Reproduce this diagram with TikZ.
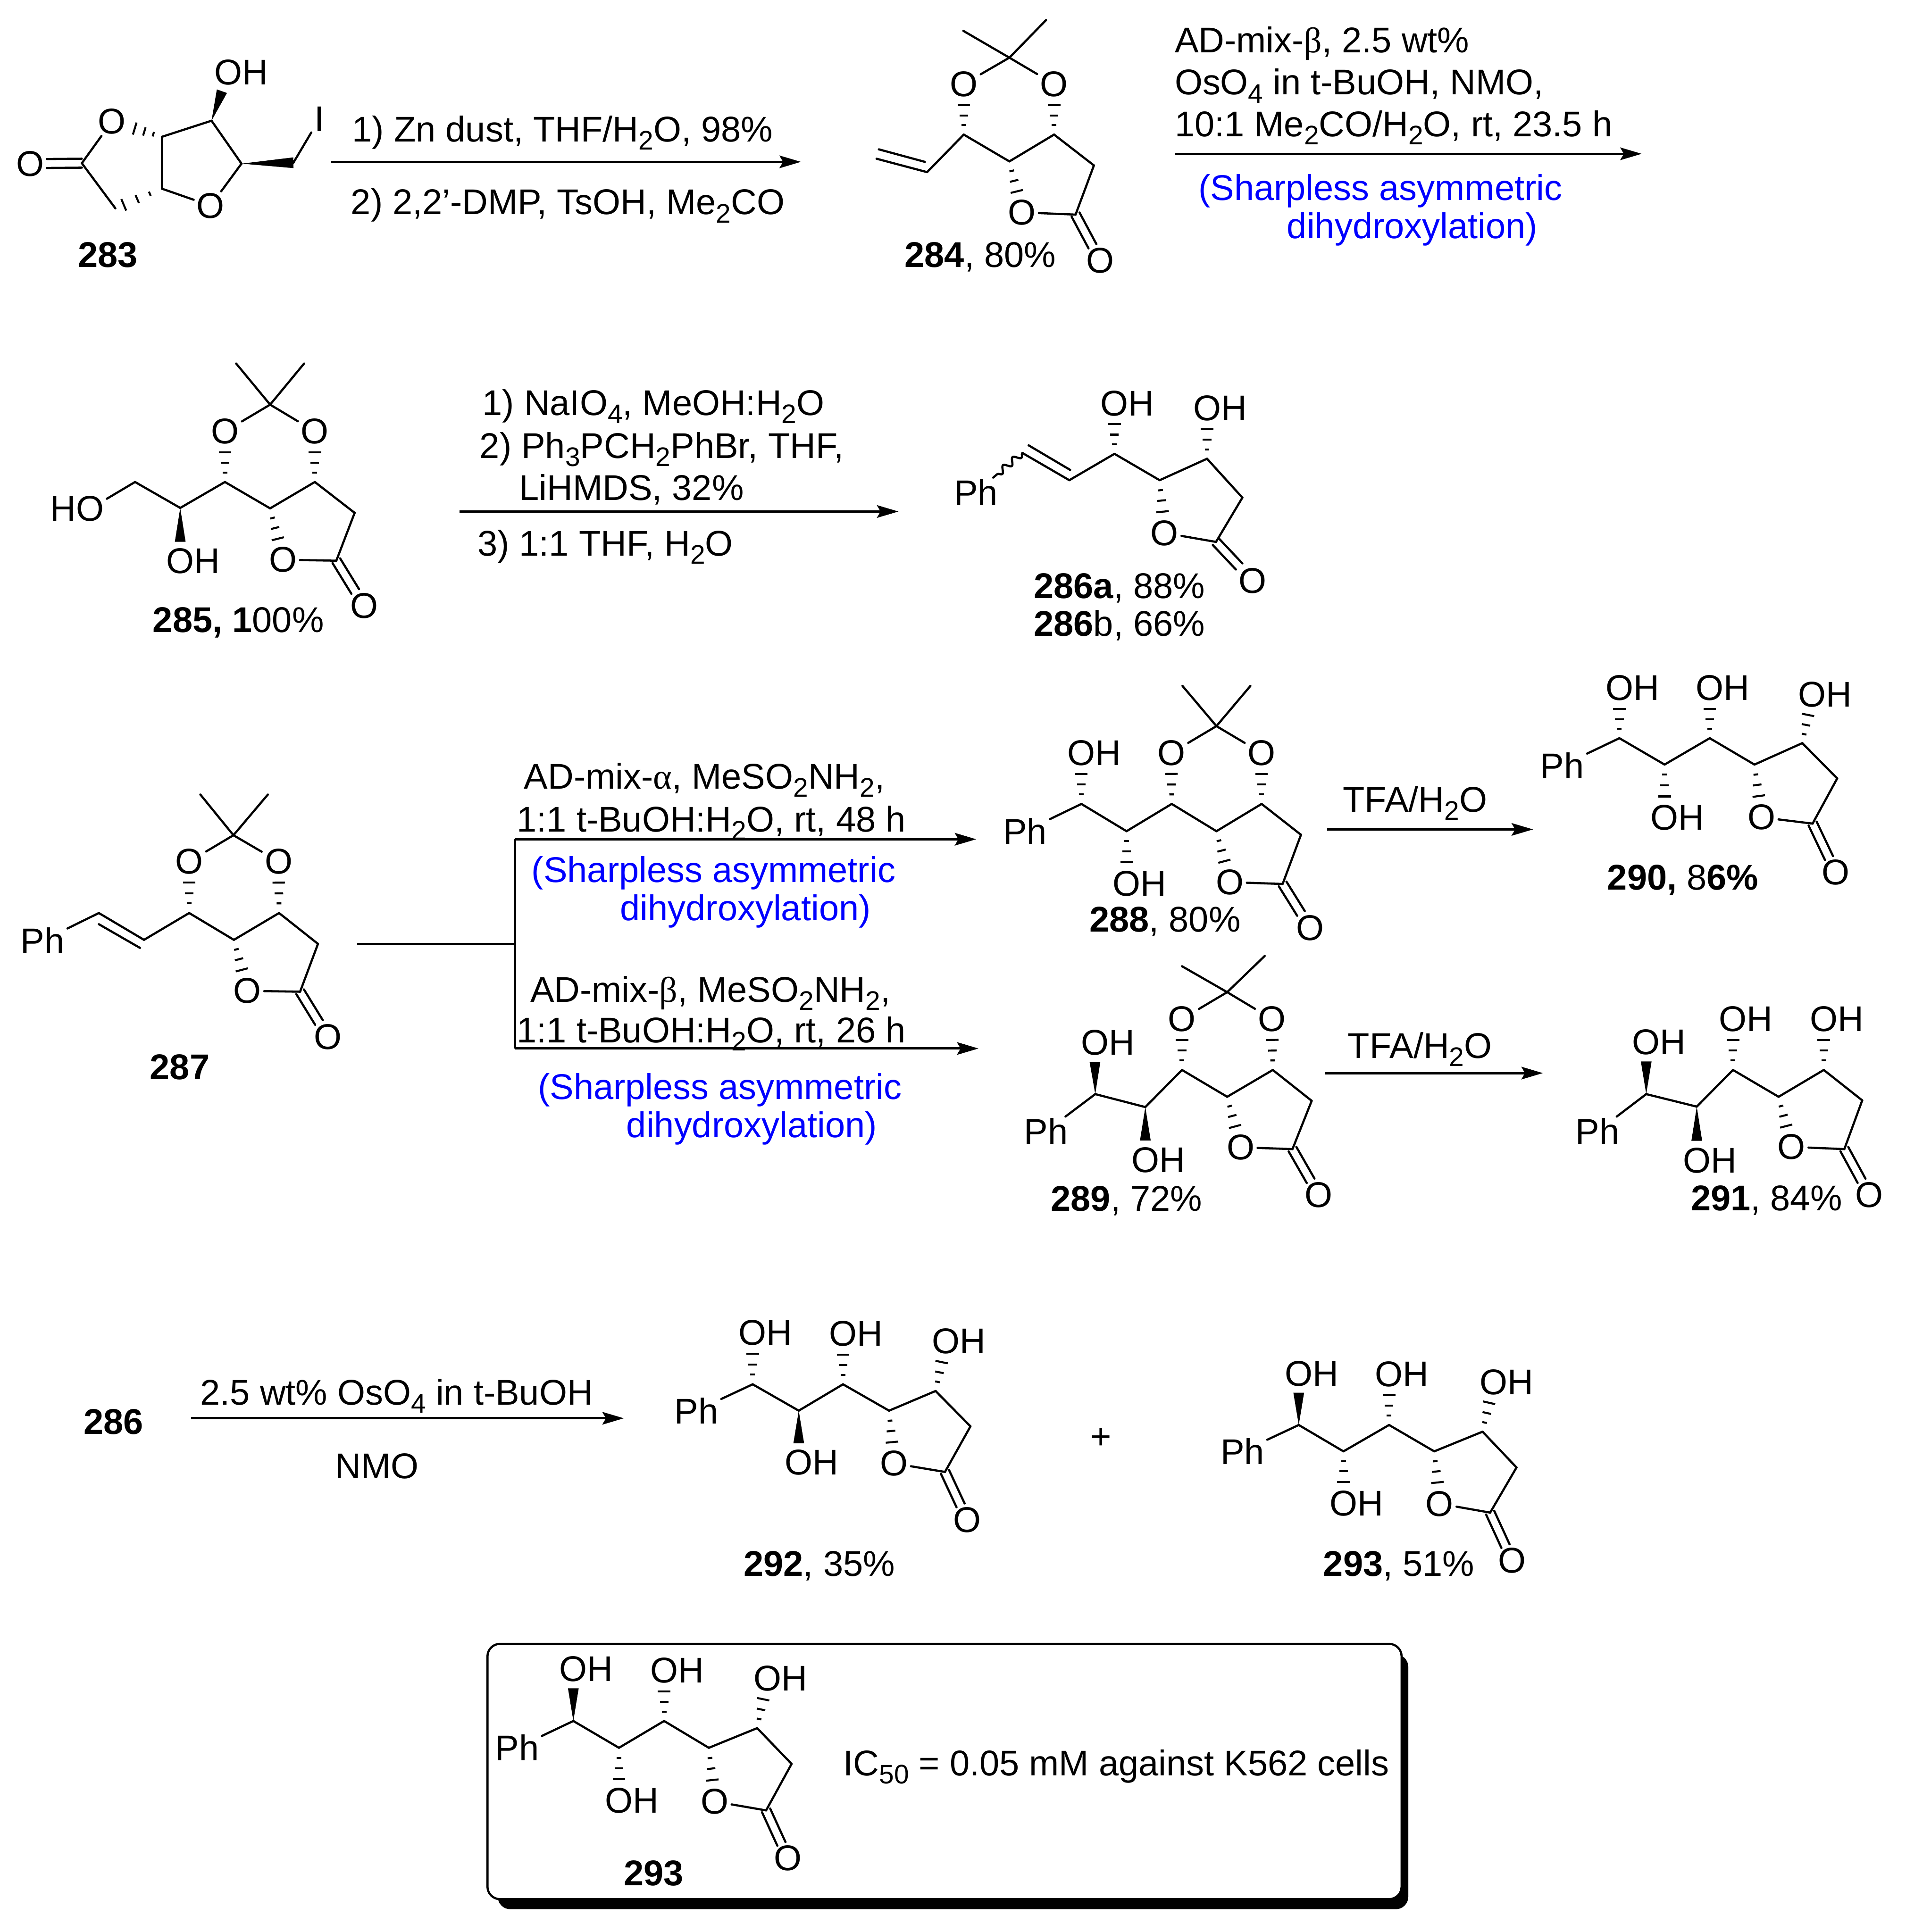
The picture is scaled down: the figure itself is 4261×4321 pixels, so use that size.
\documentclass[tikz,border=0pt]{standalone}
\usepackage{fontspec}
\setmainfont{Liberation Sans}
\newfontfamily\greekfont{Liberation Serif}
\usepackage{xcolor}
\usetikzlibrary{calc,arrows.meta,decorations.pathmorphing}

\newcommand{\OH}{O\rlap{H}}
\newcommand{\HO}{\llap{H}O}
\newcommand{\sub}[1]{\raisebox{-4.5pt}{\fontsize{15}{18}\selectfont #1}}
% dashed stereo bond, widening away from the first atom
\newcommand{\hashbond}[2]{
    \path (#1) -- (#2) coordinate[pos=0.26] (ha) coordinate[pos=0.53] (hb) coordinate[pos=0.82] (hc);
    \foreach \p/\w in {ha/1.3pt, hb/2.4pt, hc/3.5pt}
        \draw [hash] ($(\p)!\w!90:(#1)$) -- ($(\p)!\w!-90:(#1)$);
}
\newcommand{\wedgebond}[3][0.87]{
    \path (#2) -- (#3) coordinate[pos=#1] (we);
    \fill (#2) -- ($(we)!3pt!90:(#2)$) -- ($(we)!3pt!-90:(#2)$) -- cycle;
}
\newcommand{\dblbond}[2]{
    \path (#1) -- (#2) coordinate[pos=1] (de);
    \draw [bond] ($(#1)!2.5pt!90:(#2)$) -- ($(de)!2.5pt!-90:(#1)$);
    \draw [bond] ($(#1)!2.5pt!-90:(#2)$) -- ($(de)!2.5pt!90:(#1)$);
}

\begin{document}
\begin{tikzpicture}[x=0.25pt, y=-0.25pt]
    \tikzset{
        every node/.style = {font=\fontsize{20}{24}\selectfont},
        bond/.style = {line width=1.2pt, line cap=round, line join=round},
        hash/.style = {line width=1.1pt},
        atom/.style = {inner xsep=1.5pt, inner ysep=0.75pt},
        txt/.style = {anchor=base west, inner sep=0pt},
        tag/.style = {anchor=base, inner sep=0pt},
        note/.style = {txt, text=blue},
        rxn/.style = {line width=1.3pt, -{Stealth[length=12pt,width=7pt,inset=2pt]}},
    }
    \useasboundingbox (0,0) rectangle (4261,4321);

    % box behind the last structure
    \node [fill=black, rounded corners=7pt, minimum width=509pt, minimum height=142.5pt, inner sep=0pt] (boxshadow) at (2131,3985) {};
    \node [draw, fill=white, line width=1.2pt, rounded corners=7pt, minimum width=511pt, minimum height=142.75pt, inner sep=0pt] (box) at (2112,3962) {};

    % 283
    \foreach \n/\x/\y in {Ca/183/365, Cb/362/306, Cc/362/422, Cd/473/270, Ce/540/366, Cf/656/364, Cg/258/466}
        \coordinate (P283\n) at (\x,\y);
    \foreach \n/\x/\y/\t in {Oc/67/366/O, Oa/250/272/O, Or/471/460/O, Ia/714/266/I, Ta/511/162/\OH}
        \node [atom] (P283\n) at (\x,\y) {\t};
    \foreach \i/\j in {Ca/Oa, Ca/Cg, Cb/Cc, Cb/Cd, Cd/Ce, Ce/Or, Cc/Or, Cf/Ia}
        \draw [bond] (P283\i) -- (P283\j);
    \dblbond{P283Ca}{P283Oc}
    \hashbond{P283Cb}{P283Oa}
    \hashbond{P283Cc}{P283Cg}
    \wedgebond{P283Cd}{P283Ta}
    \wedgebond[1]{P283Ce}{P283Cf}
    \node [tag] (L283) at (241,598) {\textbf{283}};

    % 284
    \foreach \n/\x/\y in {Ca/1960/355, Cb/2073/385, Cc/2155/301, Cd/2257/361, Ce/2357/301, Cf/2446/370, Cg/2405/480, Qa/2257/129, Ma/2154/69, Mb/2339/45, Da/1965/334, Db/2068/362}
        \coordinate (P284\n) at (\x,\y);
    \foreach \n/\x/\y in {Oa/2155/188, Ob/2357/188, Or/2285/475, Oc/2460/583}
        \node [atom] (P284\n) at (\x,\y) {O};
    \draw [bond] (P284Da) -- (P284Db);
    \node [tag] (L284) at (2192,598) {\textbf{284}, 80\%};

    % 285
    \foreach \n/\x/\y in {Ca/302/1078, Cb/403/1136, Cc/503/1078, Cd/604/1137, Ce/704/1078, Cf/793/1147, Cg/752/1254, Qa/604/905, Ma/528/813, Mb/680/813}
        \coordinate (P285\n) at (\x,\y);
    \foreach \n/\x/\y in {Oa/503/965, Ob/704/965, Or/633/1252, Oc/814/1355}
        \node [atom] (P285\n) at (\x,\y) {O};
    \node [atom] (P285Ta) at (201,1138) {\HO};
    \node [atom] (P285Tb) at (403,1255) {\OH};
    \draw [bond] (P285Ca) -- (P285Ta);
    \wedgebond{P285Cb}{P285Tb}
    \node [tag] (L285) at (533,1414) {\textbf{285, 1}00\%};

    % 286
    \foreach \n/\x/\y in {Ca/2286/1013, Cb/2391/1074, Cc/2492/1015, Cd/2593/1074, Ce/2699/1026, Cf/2778/1113, Cg/2719/1212, Da/2300/996, Db/2393/1051}
        \coordinate (P286\n) at (\x,\y);
    \foreach \n/\x/\y/\t in {Oa/2492/902/\OH, Ob/2699/913/\OH, Or/2604/1192/O, Oc/2801/1299/O, Ph/2182/1101/Ph}
        \node [atom] (P286\n) at (\x,\y) {\t};
    \draw [bond] (P286Da) -- (P286Db);
    \draw [bond, decorate, decoration={snake, amplitude=1.8pt, segment length=7pt}] (P286Ca) -- (P286Ph);
    \node [tag] (L286a) at (2503,1338) {\textbf{286a}, 88\%};
    \node [tag] (L286b) at (2503,1423) {\textbf{286}b, 66\%};

    % 287
    \foreach \n/\x/\y in {Ca/221/2042, Cb/322/2102, Cc/423/2042, Cd/523/2102, Ce/624/2042, Cf/711/2111, Cg/671/2218, Qa/522/1868, Ma/448/1777, Mb/599/1777, Da/221/2067, Db/313/2120}
        \coordinate (P287\n) at (\x,\y);
    \foreach \n/\x/\y/\t in {Oa/423/1927/O, Ob/623/1927/O, Or/553/2216/O, Oc/733/2319/O, Ph/95/2104/Ph}
        \node [atom] (P287\n) at (\x,\y) {\t};
    \draw [bond] (P287Da) -- (P287Db);
    \node [tag] (L287) at (402,2414) {\textbf{287}};

    % 288
    \foreach \n/\x/\y in {Ca/2418/1798, Cb/2519/1859, Cc/2620/1798, Cd/2720/1859, Ce/2821/1798, Cf/2909/1867, Cg/2868/1977, Qa/2720/1624, Ma/2644/1534, Mb/2796/1534}
        \coordinate (P288\n) at (\x,\y);
    \foreach \n/\x/\y/\t in {Oa/2619/1684/O, Ob/2821/1684/O, Or/2750/1973/O, Oc/2929/2075/O, Ph/2292/1859/Ph, Ta/2418/1684/\OH, Tb/2519/1976/\OH}
        \node [atom] (P288\n) at (\x,\y) {\t};
    \node [tag] (L288) at (2605,2084) {\textbf{288}, 80\%};

    % 289
    \foreach \n/\x/\y in {Ca/2449/2447, Cb/2561/2476, Cc/2643/2393, Cd/2744/2453, Ce/2846/2393, Cf/2933/2462, Cg/2890/2570, Qa/2744/2219, Ma/2643/2161, Mb/2828/2138}
        \coordinate (P289\n) at (\x,\y);
    \foreach \n/\x/\y/\t in {Oa/2643/2279/O, Ob/2844/2279/O, Or/2774/2566/O, Oc/2949/2673/O, Ph/2339/2530/Ph, Ta/2448/2332/\OH, Tb/2561/2594/\OH}
        \node [atom] (P289\n) at (\x,\y) {\t};
    \node [tag] (L289) at (2519,2708) {\textbf{289}, 72\%};

    % 290
    \foreach \n/\x/\y in {Ca/3621/1651, Cb/3722/1710, Cc/3823/1651, Cd/3923/1710, Ce/4030/1662, Cf/4108/1741, Cg/4053/1842}
        \coordinate (P290\n) at (\x,\y);
    \foreach \n/\x/\y/\t in {Oa/3823/1539/\OH, Ob/4052/1553/\OH, Or/3939/1828/O, Oc/4105/1951/O, Ph/3493/1712/Ph, Ta/3621/1539/\OH, Tb/3722/1829/\OH}
        \node [atom] (P290\n) at (\x,\y) {\t};
    \node [tag] (L290) at (3763,1990) {\textbf{290,} 8\textbf{6\%}};

    % 291
    \foreach \n/\x/\y in {Ca/3681/2447, Cb/3794/2475, Cc/3875/2393, Cd/3977/2453, Ce/4078/2393, Cf/4164/2461, Cg/4124/2570}
        \coordinate (P291\n) at (\x,\y);
    \foreach \n/\x/\y/\t in {Oa/3875/2279/\OH, Ob/4078/2279/\OH, Or/4006/2565/O, Oc/4180/2673/O, Ph/3572/2530/Ph, Ta/3681/2331/\OH, Tb/3794/2595/\OH}
        \node [atom] (P291\n) at (\x,\y) {\t};
    \node [tag] (L291) at (3950,2707) {\textbf{291}, 84\%};

    % 292
    \foreach \n/\x/\y in {Ca/1683/3096, Cb/1786/3155, Cc/1885/3096, Cd/1988/3155, Ce/2092/3111, Cf/2170/3190, Cg/2113/3292}
        \coordinate (P292\n) at (\x,\y);
    \foreach \n/\x/\y/\t in {Oa/1885/2983/\OH, Ob/2115/3000/\OH, Or/1999/3273/O, Oc/2163/3399/O, Ph/1557/3155/Ph, Ta/1683/2981/\OH, Tb/1786/3271/\OH}
        \node [atom] (P292\n) at (\x,\y) {\t};
    \node [tag] (L292) at (1832,3525) {\textbf{292}, 35\%};

    % 293
    \foreach \n/\x/\y in {Ca/2904/3187, Cb/3004/3246, Cc/3106/3187, Cd/3207/3246, Ce/3315/3202, Cf/3391/3282, Cg/3332/3383}
        \coordinate (P293\n) at (\x,\y);
    \foreach \n/\x/\y/\t in {Oa/3106/3073/\OH, Ob/3340/3091/\OH, Or/3219/3363/O, Oc/3381/3490/O, Ph/2778/3246/Ph, Ta/2904/3072/\OH, Tb/3004/3362/\OH}
        \node [atom] (P293\n) at (\x,\y) {\t};
    \node [tag] (L293) at (3128,3525) {\textbf{293}, 51\%};
    \node [atom] (plus) at (2462,3217) {+};

    % 293 in the box
    \foreach \n/\x/\y in {Ca/1282/3849, Cb/1384/3909, Cc/1485/3849, Cd/1585/3909, Ce/1693/3865, Cf/1770/3945, Cg/1713/4049}
        \coordinate (P293b\n) at (\x,\y);
    \foreach \n/\x/\y/\t in {Oa/1485/3736/\OH, Ob/1716/3754/\OH, Or/1598/4029/O, Oc/1762/4156/O, Ph/1156/3909/Ph, Ta/1282/3733/\OH, Tb/1384/4027/\OH}
        \node [atom] (P293b\n) at (\x,\y) {\t};
    \node [tag] (L293b) at (1462,4217) {\textbf{293}};
    \node [txt] (ic50) at (1885,3971) {IC\sub{50} = 0.05 mM against K562 cells};

    % chain and lactone, shared by 284 to 293
    \foreach \m in {P284, P285, P286, P287, P288, P289, P290, P291, P292, P293, P293b} {
        \foreach \i/\j in {Ca/Cb, Cb/Cc, Cc/Cd, Cd/Ce, Ce/Cf, Cf/Cg, Cg/Or}
            \draw [bond] (\m\i) -- (\m\j);
        \dblbond{\m Cg}{\m Oc}
        \hashbond{\m Cd}{\m Or}
        \hashbond{\m Cc}{\m Oa}
        \hashbond{\m Ce}{\m Ob}
    }
    % acetal
    \foreach \m in {P284, P285, P287, P288, P289}
        \foreach \i/\j in {Qa/Oa, Qa/Ob, Qa/Ma, Qa/Mb}
            \draw [bond] (\m\i) -- (\m\j);
    \foreach \m in {P287, P288, P289, P290, P291, P292, P293, P293b}
        \draw [bond] (\m Ca) -- (\m Ph);
    \foreach \m/\i/\j in {P288/Ca/Ta, P288/Cb/Tb, P290/Ca/Ta, P290/Cb/Tb, P292/Ca/Ta, P293/Cb/Tb, P293b/Cb/Tb} {
        \hashbond{\m\i}{\m\j}
    }
    \foreach \m/\i/\j in {P289/Ca/Ta, P289/Cb/Tb, P291/Ca/Ta, P291/Cb/Tb, P292/Cb/Tb, P293/Ca/Ta, P293b/Ca/Ta} {
        \wedgebond{\m\i}{\m\j}
    }

    % reaction 1
    \coordinate (R1a) at (741,362);
    \coordinate (R1b) at (1791,362);
    \draw [rxn] (R1a) -- (R1b);
    \node [txt] (T1a) at (787,317) {1) Zn dust, THF/H\sub{2}O, 98\%};
    \node [txt] (T1b) at (784,480) {2) 2,2'-DMP, TsOH, Me\sub{2}CO};

    % reaction 2
    \coordinate (R2a) at (2628,344);
    \coordinate (R2b) at (3671,344);
    \draw [rxn] (R2a) -- (R2b);
    \node [txt] (T2a) at (2626,118) {AD-mix-{\greekfont β}, 2.5 wt\%};
    \node [txt] (T2b) at (2626,212) {OsO\sub{4} in t-BuOH, NMO,};
    \node [txt] (T2c) at (2626,305) {10:1 Me\sub{2}CO/H\sub{2}O, rt, 23.5 h};
    \node [note] (T2d) at (2679,448) {(Sharpless asymmetric};
    \node [note] (T2e) at (2877,533) {dihydroxylation)};

    % reaction 3
    \coordinate (R3a) at (1028,1144);
    \coordinate (R3b) at (2009,1144);
    \draw [rxn] (R3a) -- (R3b);
    \node [txt] (T3a) at (1078,929) {1) NaIO\sub{4}, MeOH:H\sub{2}O};
    \node [txt] (T3b) at (1072,1025) {2) Ph\sub{3}PCH\sub{2}PhBr, THF,};
    \node [txt] (T3c) at (1160,1119) {LiHMDS, 32\%};
    \node [txt] (T3d) at (1067,1243) {3) 1:1 THF, H\sub{2}O};

    % reaction 4, forked
    \coordinate (R4a) at (799,2111);
    \coordinate (R4b) at (1152,2111);
    \coordinate (R4c) at (1152,1877);
    \coordinate (R4d) at (2183,1877);
    \coordinate (R4e) at (1152,2345);
    \coordinate (R4f) at (2188,2345);
    \draw [line width=1.3pt] (R4a) -- (R4b);
    \draw [line width=1.3pt] (R4c) -- (R4e);
    \foreach \i/\j in {c/d, e/f}
        \draw [rxn] (R4\i) -- (R4\j);
    \node [txt] (T4a) at (1171,1764) {AD-mix-{\greekfont α}, MeSO\sub{2}NH\sub{2},};
    \node [txt] (T4b) at (1155,1860) {1:1 t-BuOH:H\sub{2}O, rt, 48 h};
    \node [note] (T4c) at (1188,1973) {(Sharpless asymmetric};
    \node [note] (T4d) at (1386,2059) {dihydroxylation)};
    \node [txt] (T4e) at (1185,2241) {AD-mix-{\greekfont β}, MeSO\sub{2}NH\sub{2},};
    \node [txt] (T4f) at (1155,2332) {1:1 t-BuOH:H\sub{2}O, rt, 26 h};
    \node [note] (T4g) at (1202,2458) {(Sharpless asymmetric};
    \node [note] (T4h) at (1400,2544) {dihydroxylation)};

    % TFA steps
    \coordinate (R5a) at (2968,1855);
    \coordinate (R5b) at (3428,1855);
    \coordinate (R6a) at (2963,2400);
    \coordinate (R6b) at (3450,2400);
    \foreach \i in {5, 6}
        \draw [rxn] (R\i a) -- (R\i b);
    \node [tag] (T5) at (3164,1816) {TFA/H\sub{2}O};
    \node [tag] (T6) at (3175,2367) {TFA/H\sub{2}O};

    % last reaction
    \coordinate (R7a) at (427,3172);
    \coordinate (R7b) at (1395,3172);
    \draw [rxn] (R7a) -- (R7b);
    \node [tag] (L286) at (254,3208) {\textbf{286}};
    \node [tag] (T7a) at (887,3142) {2.5 wt\% OsO\sub{4} in t-BuOH};
    \node [tag] (T7b) at (843,3307) {NMO};
\end{tikzpicture}
\end{document}
